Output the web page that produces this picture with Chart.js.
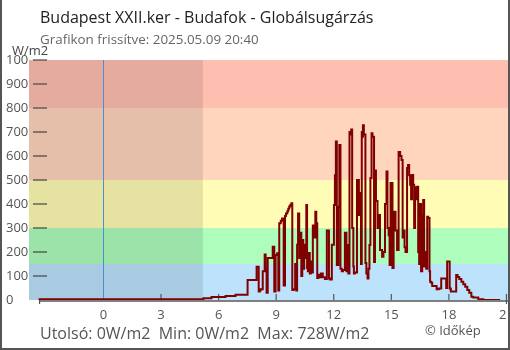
<!DOCTYPE html>
<html>
<head>
<meta charset="utf-8">
<script src="https://cdn.jsdelivr.net/npm/chart.js@4/dist/chart.umd.min.js"></script>
<style>
body { margin: 0; background: #fff; }
#wrap { position: relative; width: 510px; height: 350px; font-family: 'Open Sans', sans-serif; }
#frame { position: absolute; left: 0; top: 0; width: 510px; height: 350px; box-sizing: border-box;
         border-left: 2px solid #555; border-right: 2px solid #555; border-bottom: 2px solid #555; pointer-events: none; }
.t { position: absolute; white-space: pre; line-height: 1; }
</style>
</head>
<body>
<div id="wrap">
  <canvas id="c" width="510" height="350"></canvas>
  <div class="t" style="left:40px;top:9px;font-size:16px;color:#222">Budapest XXII.ker - Budafok - Globálsugárzás</div>
  <div class="t" style="left:40px;top:33px;font-size:13.4px;color:#666">Grafikon frissítve: 2025.05.09 20:40</div>
  <div class="t" style="left:12px;top:44px;font-size:13px;color:#444">W/m2</div>
  <div class="t" style="left:40px;top:325px;font-size:16px;color:#555">Utolsó: 0W/m2  Min: 0W/m2  Max: 728W/m2</div>
  <div class="t" style="left:425px;top:324px;font-size:13px;color:#555">© Időkép</div>
  <div id="frame"></div>
</div>
<script>
// hours relative to midnight of 2025.05.09, values in W/m2
const hours = [-3.33, 5.21, 5.63, 6.36, 6.88, 7.51, 7.98, 8.09, 8.14, 8.19, 8.30, 8.40, 8.45, 8.50, 8.56,
  8.82, 8.90, 8.97, 9.05, 9.11, 9.16, 9.24, 9.31, 9.39, 9.46, 9.51, 9.58, 9.63, 9.68, 9.73, 9.79, 9.84,
  9.91, 9.99, 10.05, 10.09, 10.14, 10.20, 10.26, 10.31, 10.36, 10.41, 10.46, 10.52, 10.57, 10.61, 10.65,
  10.70, 10.75, 10.80, 10.86, 10.91, 10.98, 11.04, 11.09, 11.14, 11.20, 11.25, 11.33, 11.43, 11.54, 11.64,
  11.75, 11.80, 11.90, 12.01, 12.06, 12.11, 12.16, 12.24, 12.29, 12.35, 12.42, 12.48, 12.58, 12.66, 12.70,
  12.76, 12.82, 12.86, 12.91, 12.96, 13.02, 13.05, 13.10, 13.21, 13.31, 13.37, 13.42, 13.46, 13.49, 13.52,
  13.57, 13.65, 13.70, 13.76, 13.81, 13.86, 13.91, 13.97, 14.02, 14.10, 14.15, 14.20, 14.28, 14.36, 14.41,
  14.52, 14.59, 14.67, 14.75, 14.80, 14.86, 14.91, 14.96, 15.06, 15.12, 15.22, 15.30, 15.38, 15.46, 15.53,
  15.59, 15.64, 15.69, 15.74, 15.82, 15.87, 15.93, 15.98, 16.03, 16.08, 16.14, 16.19, 16.24, 16.29, 16.35,
  16.40, 16.45, 16.50, 16.55, 16.61, 16.66, 16.71, 16.76, 16.82, 16.87, 16.92, 16.99, 17.02, 17.08, 17.13,
  17.36, 17.47, 17.60, 17.86, 17.91, 18.04, 18.10, 18.38, 18.45, 18.54, 18.65, 18.75, 18.85, 18.96, 19.06,
  19.17, 19.27, 19.53, 19.79, 20.32, 20.67];
const wm2 = [0, 3, 7, 13, 17, 22, 83, 139, 35, 40, 45, 120, 190, 130, 30,
  175, 222, 35, 188, 195, 40, 320, 330, 340, 60, 350, 360, 370, 380, 390, 395, 403,
  42, 45, 150, 40, 230, 360, 175, 280, 100, 250, 130, 230, 175, 396, 133,
  120, 196, 110, 160, 115, 310, 260, 368, 320, 92, 105, 95, 110, 95, 88,
  290, 90, 85, 230, 396, 520, 660, 146, 389, 646, 130, 120, 125, 280, 120,
  229, 110, 700, 690, 710, 300, 140, 110, 115, 500, 354, 446, 150, 700, 680,
  728, 690, 154, 110, 90, 130, 229, 508, 695, 680, 158, 540, 412, 300, 354,
  208, 180, 200, 400, 535, 300, 270, 146, 487, 133, 368, 290, 208, 617, 600,
  583, 260, 290, 220, 200, 550, 562, 520, 480, 420, 521, 480, 300, 470, 420,
  472, 200, 150, 400, 120, 350, 417, 140, 200, 130, 347, 342, 120, 76, 72,
  58, 45, 48, 90, 50, 160, 48, 35, 104, 96, 88, 76, 66, 55, 42,
  30, 14, 10, 3, 0, 0];

const xTicks = [0, 3, 6, 9, 12, 15, 18, 21];
const yTicks = [0, 100, 200, 300, 400, 500, 600, 700, 800, 900, 1000];
const bandLimits = [0, 150, 300, 500, 800, 1000];
const bandColors = ['#bde2fb', '#aefdbd', '#fffcb5', '#ffd5bd', '#ffbfb0'];
const sunrise = 5.18;
const xMin = -3.88, xMax = 21.08;

// backgrounds and axis marks go under the tick labels and the line
const decor = {
  id: 'decor',
  beforeDraw(chart) {
    const { ctx, chartArea: a, scales: { x, y } } = chart;
    ctx.save();
    for (let i = 0; i < bandColors.length; i++) {
      const y0 = y.getPixelForValue(bandLimits[i]);
      const y1 = y.getPixelForValue(bandLimits[i + 1]);
      ctx.fillStyle = bandColors[i];
      ctx.fillRect(a.left, y1, a.right - a.left, y0 - y1);
    }
    // night shading
    ctx.fillStyle = 'rgba(0,0,0,0.1)';
    ctx.fillRect(a.left, a.top, x.getPixelForValue(sunrise) - a.left, a.bottom - a.top);
    // midnight line
    const x0 = Math.round(x.getPixelForValue(0)) + 0.5;
    ctx.strokeStyle = '#4a8fd0';
    ctx.lineWidth = 1;
    ctx.beginPath(); ctx.moveTo(x0, a.top); ctx.lineTo(x0, a.bottom); ctx.stroke();
    // y tick dashes
    ctx.strokeStyle = '#444';
    ctx.lineWidth = 1.2;
    yTicks.slice(1).forEach(v => {
      const py = y.getPixelForValue(v);
      ctx.beginPath(); ctx.moveTo(a.left + 4, py); ctx.lineTo(a.left + 18, py); ctx.stroke();
    });
    // x axis line and ticks
    const xs = x.getPixelForValue(hours[0]);
    ctx.strokeStyle = '#555';
    ctx.lineWidth = 1.5;
    ctx.beginPath(); ctx.moveTo(xs, a.bottom + 1); ctx.lineTo(a.right, a.bottom + 1); ctx.stroke();
    ctx.lineWidth = 1.2;
    ctx.beginPath(); ctx.moveTo(xs, a.bottom); ctx.lineTo(xs, a.bottom + 4); ctx.stroke();
    xTicks.forEach(v => {
      if (v === 0) return;
      const px = x.getPixelForValue(v);
      ctx.beginPath(); ctx.moveTo(px, a.bottom - 6); ctx.lineTo(px, a.bottom + (v === 21 ? 4 : 0)); ctx.stroke();
    });
    ctx.restore();
  }
};

const tickFont = { family: 'Open Sans', size: 13 };
new Chart(document.getElementById('c'), {
  type: 'line',
  data: {
    datasets: [{
      data: hours.map((h, i) => ({ x: h, y: wm2[i] })),
      borderColor: '#800000',
      borderWidth: 2,
      pointRadius: 0,
      stepped: 'after',
      fill: false
    }]
  },
  options: {
    responsive: false,
    animation: false,
    devicePixelRatio: 1,
    layout: { padding: { top: 60, right: 2, left: 6, bottom: 0 } },
    plugins: { legend: { display: false }, tooltip: { enabled: false } },
    scales: {
      x: {
        type: 'linear', min: xMin, max: xMax,
        afterBuildTicks: s => { s.ticks = xTicks.map(v => ({ value: v })); },
        afterFit: s => { s.height = 50; s.paddingLeft = 0; s.paddingRight = 0; },
        ticks: { autoSkip: false, maxRotation: 0, padding: 7, color: '#555', font: tickFont, callback: v => String(v) },
        grid: { display: false, drawTicks: false }, border: { display: false }
      },
      y: {
        min: 0, max: 1000,
        afterBuildTicks: s => { s.ticks = yTicks.map(v => ({ value: v })); },
        afterFit: s => { s.width = 23; s.paddingTop = 0; s.paddingBottom = 0; },
        ticks: { crossAlign: 'far', padding: 0, color: '#555', font: tickFont, callback: v => String(v) },
        grid: { display: false, drawTicks: false }, border: { display: false }
      }
    }
  },
  plugins: [decor]
});
</script>
</body>
</html>
